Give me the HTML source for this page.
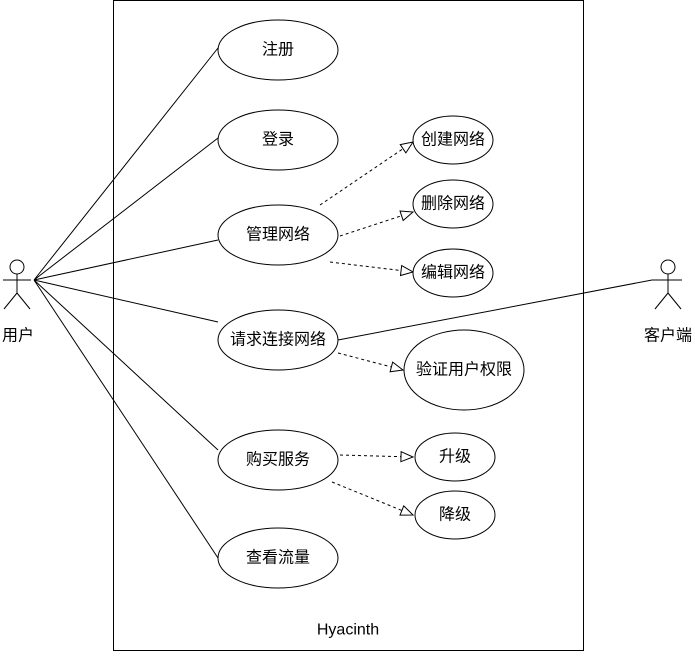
<!DOCTYPE html><html><head><meta charset="utf-8"><style>body{margin:0;background:#fff}svg text{font-family:"Liberation Sans","Noto Sans CJK SC",sans-serif;font-size:16px;text-anchor:middle;dominant-baseline:central}</style></head><body>
<svg width="695" height="651" viewBox="0 0 695 651">
<defs><marker id="a" markerWidth="14" markerHeight="12" refX="13" refY="6" orient="auto" markerUnits="userSpaceOnUse"><path d="M1,1 L13,6 L1,11 Z" fill="#fff" stroke="#000"/></marker></defs>
<g fill="none" stroke="#000" stroke-width="1">
<rect x="113.5" y="0.5" width="470" height="650"/>
<circle cx="17" cy="267" r="7"/><path d="M17,274V293M3,280H31M17,293L4,309M17,293L30,309"/>
<circle cx="668" cy="267" r="7"/><path d="M668,274V293M654,280H682M668,293L655,309M668,293L681,309"/>
<path d="M34,280L218,48M34,280L218,138M34,280L218,240M34,280L218,322M34,280L218,450M34,280L218,558M338,340L652,280H668"/>
<g stroke-dasharray="3,3" marker-end="url(#a)">
<path d="M320,205L413,142"/><path d="M340,236L413,212"/><path d="M330,262L413,272"/><path d="M338,353L403,370"/><path d="M340,455L413,457"/><path d="M332,482L413,515"/>
</g>
</g>
<g fill="#fff" stroke="#000">
<ellipse cx="278" cy="50" rx="60" ry="30"/><ellipse cx="278" cy="140" rx="60" ry="30"/><ellipse cx="278" cy="235" rx="60" ry="30"/><ellipse cx="278" cy="340" rx="60" ry="30"/><ellipse cx="278" cy="460" rx="60" ry="30"/><ellipse cx="278" cy="558" rx="60" ry="30"/>
<ellipse cx="453" cy="140" rx="40" ry="24"/><ellipse cx="453" cy="204" rx="40" ry="24"/><ellipse cx="453" cy="273" rx="40" ry="24"/><ellipse cx="464" cy="370" rx="60" ry="40"/><ellipse cx="455" cy="457" rx="40" ry="24"/><ellipse cx="455" cy="515" rx="40" ry="24"/>
</g>
<text x="278" y="50">注册</text><text x="278" y="140">登录</text><text x="278" y="235">管理网络</text><text x="278" y="340">请求连接网络</text><text x="278" y="460">购买服务</text><text x="278" y="558">查看流量</text>
<text x="453" y="140">创建网络</text><text x="453" y="204">删除网络</text><text x="453" y="273">编辑网络</text><text x="464" y="370">验证用户权限</text><text x="455" y="457">升级</text><text x="455" y="515">降级</text>
<text x="18" y="336">用户</text><text x="668" y="336">客户端</text><text x="348" y="630">Hyacinth</text>
</svg></body></html>
